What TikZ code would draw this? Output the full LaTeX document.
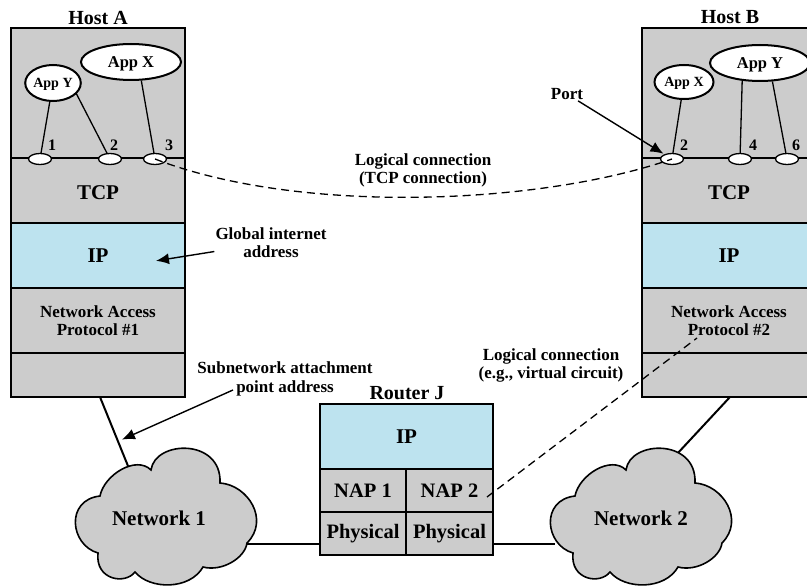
\documentclass[tikz,border=0pt]{standalone}
\usepackage{fontspec}
\setmainfont{Liberation Serif}
\usetikzlibrary{arrows.meta, shapes.geometric}

\definecolor{layergray}{HTML}{CCCCCC}
\definecolor{ipblue}{HTML}{BDE3EF}

\tikzset{
    layer/.style={rectangle, draw=black, line width=2pt, fill=layergray, inner sep=0pt,
        align=center, font=\fontsize{17}{18}\bfseries\selectfont},
    biglayer/.style={layer, font=\fontsize{21}{22}\bfseries\selectfont},
    label/.style={inner sep=1pt, align=center, font=\fontsize{17}{18.5}\bfseries\selectfont},
    title/.style={inner sep=0pt, font=\fontsize{20}{22}\bfseries\selectfont},
    app/.style={ellipse, draw=black, line width=2pt, fill=white, inner sep=0pt, text depth=0pt,
        font=\fontsize{16.5}{18}\bfseries\selectfont},
    smallapp/.style={app, font=\fontsize{14}{16}\bfseries\selectfont},
    port/.style={ellipse, draw=black, line width=1.3pt, fill=white, inner sep=0pt,
        minimum width=23pt, minimum height=11pt},
    num/.style={inner sep=0pt, font=\fontsize{16}{18}\bfseries\selectfont},
    pointer/.style={-{Latex[length=13pt, width=11pt]}, line width=1.4pt, shorten >=1pt},
    wire/.style={line width=1.3pt},
    dashwire/.style={line width=1.3pt, dash pattern=on 8pt off 5pt},
    link/.style={line width=2pt},
    cloudline/.style={draw=black, line width=1.6pt, fill=layergray},
    netlabel/.style={inner sep=0pt, font=\fontsize{21}{22}\bfseries\selectfont}
}

\newcommand{\cloudpath}{(100,496) .. controls (104,475) and (136,455) .. (151,470)
    .. controls (155,440) and (222,438) .. (220,483)
    .. controls (248,485) and (270,520) .. (247,543)
    .. controls (245,558) and (222,572) .. (203,567)
    .. controls (190,590) and (150,590) .. (135,572)
    .. controls (125,585) and (95,580) .. (98,553)
    .. controls (70,545) and (65,500) .. (100,496) -- cycle}

\begin{document}
\begin{tikzpicture}[x=1pt, y=-1pt]
    \useasboundingbox (0, 0) rectangle (807, 586);
    \clip (0, 0) rectangle (807, 586);

    % links first, the clouds go over their ends
    \coordinate (CloudA) at (128, 466);
    \coordinate (CloudB) at (677, 454);
    \coordinate (CloudAr) at (247, 544);
    \coordinate (CloudBl) at (555, 544);
    \coordinate (AttachA) at (100, 397);
    \coordinate (AttachB) at (730, 397);
    \coordinate (RouterL) at (320, 544);
    \coordinate (RouterR) at (493, 544);
    \draw [link] (AttachA) -- (CloudA);
    \draw [link] (AttachB) -- (CloudB);
    \draw [link] (CloudAr) -- (RouterL);
    \draw [link] (RouterR) -- (CloudBl);

    % Host A
    \node (TitleA) at (98, 18) [title] {Host A};
    \node (AppsA) at (98, 93) [layer, minimum width=174pt, minimum height=130pt] {};
    \node (TcpA) at (98, 190.5) [biglayer, text height=19pt, minimum width=174pt, minimum height=65pt] {TCP};
    \node (IpA) at (98, 255.5) [biglayer, fill=ipblue, minimum width=174pt, minimum height=65pt] {IP};
    \node (NapA) at (98, 320.5) [layer, minimum width=174pt, minimum height=65pt] {Network Access\\Protocol \#1};
    \node (PhyA) at (98, 375) [layer, minimum width=174pt, minimum height=44pt] {};

    \node (YA) at (53, 83) [smallapp, minimum width=54pt, minimum height=36pt] {App Y};
    \node (XA) at (131, 62) [app, minimum width=100pt, minimum height=36pt] {App X};
    \node (P1) at (40, 159) [port] {};
    \node (P2) at (110, 159) [port] {};
    \node (P3) at (155, 159) [port] {};
    \node (N1) at (52, 145) [num] {1};
    \node (N2) at (114, 145) [num] {2};
    \node (N3) at (169, 145) [num] {3};
    \draw [wire] (YA) -- (P1);
    \draw [wire] (YA.-25) -- (P2);
    \draw [wire] (XA.-61) -- (P3);

    % Host B
    \node (TitleB) at (730, 17) [title] {Host B};
    \node (AppsB) at (729, 93) [layer, minimum width=174pt, minimum height=130pt] {};
    \node (TcpB) at (729, 190.5) [biglayer, text height=19pt, minimum width=174pt, minimum height=65pt] {TCP};
    \node (IpB) at (729, 255.5) [biglayer, fill=ipblue, minimum width=174pt, minimum height=65pt] {IP};
    \node (NapB) at (729, 320.5) [layer, minimum width=174pt, minimum height=65pt] {Network Access\\Protocol \#2};
    \node (PhyB) at (729, 375) [layer, minimum width=174pt, minimum height=44pt] {};

    \node (XB) at (684, 82) [smallapp, minimum width=59pt, minimum height=34pt] {App X};
    \node (YB) at (760, 63) [app, minimum width=100pt, minimum height=36pt] {App Y};
    \node (Q2) at (672, 159) [port] {};
    \node (Q4) at (740, 159) [port] {};
    \node (Q6) at (787, 159) [port] {};
    \node (M2) at (684, 145) [num] {2};
    \node (M4) at (753, 145) [num] {4};
    \node (M6) at (796, 145) [num] {6};
    \draw [wire] (XB) -- (Q2);
    \draw [wire] (YB.-135) -- (Q4);
    \draw [wire] (YB.-56) -- (Q6);

    % Router J
    \node (TitleJ) at (407, 393) [title] {Router J};
    \node (IpJ) at (406.5, 436.5) [biglayer, fill=ipblue, minimum width=173pt, minimum height=65pt] {IP};
    \node (Nap1) at (363, 490.5) [biglayer, font=\fontsize{20.5}{22}\bfseries\selectfont, minimum width=86.5pt, minimum height=43pt] {NAP 1};
    \node (Nap2) at (449.5, 490.5) [biglayer, font=\fontsize{20.5}{22}\bfseries\selectfont, minimum width=86.5pt, minimum height=43pt] {NAP 2};
    \node (Phy1) at (363, 533.5) [biglayer, font=\fontsize{20.5}{22}\bfseries\selectfont, minimum width=86.5pt, minimum height=43pt] {Physical};
    \node (Phy2) at (449.5, 533.5) [biglayer, font=\fontsize{20.5}{22}\bfseries\selectfont, minimum width=86.5pt, minimum height=43pt] {Physical};

    % clouds
    \draw [cloudline] \cloudpath;
    \draw [cloudline, xshift=475pt] \cloudpath;
    \node (Net1) at (159, 518) [netlabel] {Network 1};
    \node (Net2) at (641, 518) [netlabel] {Network 2};

    % labels and arrows
    \node (LblPort) at (567, 94) [label] {Port};
    \node (LblTcp) at (423, 170.5) [label] {Logical connection\\(TCP connection)};
    \node (LblGlobal) at (271, 242.5) [label] {Global internet\\address};
    \node (LblSub) at (285, 379) [label, font=\fontsize{17}{19.5}\bfseries\selectfont] {Subnetwork attachment\\point address};
    \node (LblVc) at (551, 365.5) [label] {Logical connection\\(e.g., virtual circuit)};

    \coordinate (GlobalEnd) at (155, 261);
    \coordinate (SubStart) at (233, 390);
    \coordinate (SubEnd) at (121, 440);
    \coordinate (VcA) at (487, 497);
    \coordinate (VcB) at (697, 338);

    \draw [pointer] (LblPort) -- (Q2);
    \draw [pointer] (LblGlobal) -- (GlobalEnd);
    \draw [pointer] (SubStart) -- (SubEnd);
    \draw [dashwire] (P3.center) .. controls (300, 215) and (540, 205) .. (Q2.center);
    \draw [dashwire] (VcA) -- (VcB);
\end{tikzpicture}
\end{document}
